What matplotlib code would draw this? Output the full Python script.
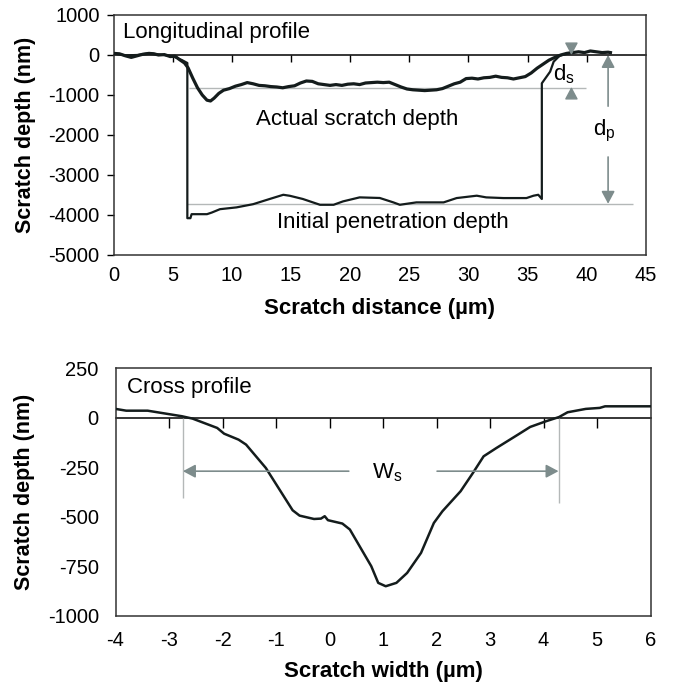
"""
Scratch profile figure: longitudinal profile (top) and cross profile (bottom).

Saves out.png
"""

import matplotlib
matplotlib.use("Agg")
import matplotlib.pyplot as plt

plt.rcParams["font.family"] = ["Liberation Sans", "DejaVu Sans"]
plt.rcParams["mathtext.default"] = "regular"
plt.rcParams["axes.unicode_minus"] = False

# longitudinal profile: residual (actual) scratch surface
actualX = [0, 0.5, 1.0, 1.5, 2.0, 2.5, 3.0, 3.4, 3.8, 4.3, 4.8, 5.2, 5.6, 6.0, 6.3, 6.7,
           7.1, 7.5, 7.9, 8.2, 8.5, 8.9, 9.3, 9.8, 10.3, 10.8, 11.3, 11.8, 12.3, 12.8,
           13.3, 13.8, 14.3, 14.8, 15.3, 15.8, 16.3, 16.8, 17.3, 17.8, 18.3, 18.8, 19.3,
           19.8, 20.3, 20.8, 21.3, 21.8, 22.3, 22.8, 23.3, 23.8, 24.3, 24.8, 25.3, 25.8,
           26.3, 26.8, 27.3, 27.8, 28.3, 28.8, 29.3, 29.8, 30.3, 30.8, 31.3, 31.8, 32.3,
           32.8, 33.3, 33.8, 34.3, 34.8, 35.3, 35.8, 36.3, 36.8, 37.3, 37.8, 38.3, 38.8,
           39.3, 39.8, 40.3, 40.8, 41.3, 41.8, 42.0]
actualDepth = [40, 30, -20, -60, -20, 20, 40, 30, 0, 10, -40, -30, -120, -200, -320, -580,
               -820, -1000, -1130, -1150, -1080, -960, -880, -840, -780, -740, -690, -720,
               -760, -770, -790, -800, -820, -790, -770, -700, -650, -660, -720, -740, -760,
               -740, -760, -730, -720, -740, -700, -690, -680, -690, -680, -740, -800, -850,
               -870, -880, -890, -880, -870, -840, -780, -720, -680, -590, -580, -600, -570,
               -560, -530, -560, -570, -600, -570, -540, -450, -330, -230, -130, -60, 0, 40,
               60, 80, 60, 100, 80, 60, 70, 60]

# longitudinal profile: initial penetration depth under load
penetrationX = [0, 1.0, 2.0, 3.0, 4.0, 5.0, 5.8, 6.24, 6.24, 6.5, 6.6, 7.9, 8.3, 9.0, 10.4,
                11.8, 13.2, 14.35, 14.9, 16.0, 17.45, 18.6, 19.4, 20.8, 22.5, 23.65, 24.2,
                25.6, 27.9, 29.0, 30.7, 31.5, 32.95, 34.9, 35.5, 35.9, 36.2, 36.2, 36.9,
                37.2, 37.7, 38.5]
penetrationDepth = [40, -10, 0, 40, 10, -30, -130, -200, -4080, -4080, -3980, -3980, -3940,
                    -3855, -3810, -3730, -3600, -3495, -3520, -3600, -3745, -3745, -3660,
                    -3560, -3575, -3685, -3745, -3685, -3685, -3577, -3518, -3560, -3577,
                    -3577, -3518, -3495, -3600, -708, -417, -167, -20, 50]

# reference levels and annotation positions (nm, um)
scratchDepthLevel = -830
penetrationLevel = -3720
dsX = 38.7
dpX = 41.8

# cross profile
crossX = [-4.0, -3.8, -3.4, -2.76, -2.56, -2.10, -1.97, -1.70, -1.56, -1.19, -0.69, -0.56,
          -0.29, -0.16, -0.09, -0.03, 0.24, 0.38, 0.78, 0.91, 1.05, 1.25, 1.45, 1.71, 1.95,
          2.11, 2.45, 2.68, 2.88, 3.12, 3.52, 3.75, 4.05, 4.29, 4.45, 4.79, 5.05, 5.15, 6.0]
crossDepth = [44, 35, 35, 7, -5, -52, -81, -111, -136, -254, -467, -494, -511, -509, -497,
              -517, -534, -564, -749, -833, -850, -833, -783, -682, -531, -472, -371, -279,
              -195, -153, -86, -47, -18, 3, 27, 44, 49, 57, 57]
widthEdges = [-2.74, 4.28]
widthArrowY = -270

lineColor = "#141c1c"
refColor = "#b4b8b8"
arrowColor = "#7d8c8c"
headStyle = "-|>,head_length=0.75,head_width=0.4"

fig = plt.figure(figsize=(6.74, 6.94), dpi=100)
axTop = fig.add_axes([0.1684, 0.6326, 0.790, 0.3458])
axBottom = fig.add_axes([0.1714, 0.1124, 0.7938, 0.3573])

# ---- top: longitudinal profile ----
axTop.plot(actualX, actualDepth, color=lineColor, lw=2.3, zorder=3)
axTop.plot(penetrationX, penetrationDepth, color=lineColor, lw=1.6, zorder=3)
axTop.hlines(scratchDepthLevel, 6.4, 39.9, color=refColor, lw=1.0, zorder=2)
axTop.hlines(penetrationLevel, 6.2, 43.9, color=refColor, lw=1.0, zorder=2)

# d_s markers (heads only)
axTop.annotate("", xy=(dsX, 0), xytext=(dsX, 260),
               arrowprops=dict(arrowstyle=headStyle, color=arrowColor, lw=1, shrinkA=0, shrinkB=0))
axTop.annotate("", xy=(dsX, scratchDepthLevel + 30), xytext=(dsX, scratchDepthLevel - 230),
               arrowprops=dict(arrowstyle=headStyle, color=arrowColor, lw=1, shrinkA=0, shrinkB=0))
axTop.text(dsX - 0.6, -470, "d$_s$", fontsize=16, ha="center", va="center")

# d_p arrow
axTop.annotate("", xy=(dpX, 0), xytext=(dpX, -1280),
               arrowprops=dict(arrowstyle=headStyle, color=arrowColor, lw=1.2, shrinkA=0, shrinkB=0))
axTop.annotate("", xy=(dpX, penetrationLevel), xytext=(dpX, -2550),
               arrowprops=dict(arrowstyle=headStyle, color=arrowColor, lw=1.2, shrinkA=0, shrinkB=0))
axTop.text(dpX - 0.3, -1900, "d$_p$", fontsize=16, ha="center", va="center")

axTop.text(20.6, -1620, "Actual scratch depth", fontsize=16, ha="center", va="center")
axTop.text(23.6, -4200, "Initial penetration depth", fontsize=16, ha="center", va="center")
axTop.text(0.018, 0.925, "Longitudinal profile", fontsize=16, ha="left", va="center", transform=axTop.transAxes)

axTop.set_xlim(0, 45)
axTop.set_ylim(-5000, 1000)
axTop.set_xticks(range(0, 50, 5))
axTop.set_yticks(range(-5000, 1001, 1000))
axTop.tick_params(axis="x", length=0, pad=8, labelsize=14.5)
axTop.tick_params(axis="y", direction="out", length=5, width=1, labelsize=14.5, pad=5)
axTop.set_xlabel("Scratch distance (\u00b5m)", fontsize=16, fontweight="bold", labelpad=9)
axTop.set_ylabel("Scratch depth (nm)", fontsize=15.5, fontweight="bold", labelpad=9)

zeroTop = axTop.secondary_xaxis(0, transform=axTop.transData)
zeroTop.set_xticks(range(5, 45, 5))
zeroTop.tick_params(axis="x", direction="out", length=5, width=1, labelbottom=False, color="black")
zeroTop.spines["bottom"].set_linewidth(1.1)

# ---- bottom: cross profile ----
axBottom.plot(crossX, crossDepth, color=lineColor, lw=1.8, zorder=3)
axBottom.vlines(widthEdges, [-405, -430], 0, color=refColor, lw=1.0, zorder=2)
axBottom.annotate("", xy=(widthEdges[0], widthArrowY), xytext=(0.36, widthArrowY),
                  arrowprops=dict(arrowstyle=headStyle, color=arrowColor, lw=1.2, shrinkA=0, shrinkB=0))
axBottom.annotate("", xy=(widthEdges[1], widthArrowY), xytext=(2.01, widthArrowY),
                  arrowprops=dict(arrowstyle=headStyle, color=arrowColor, lw=1.2, shrinkA=0, shrinkB=0))
axBottom.text(1.08, widthArrowY - 10, "W$_s$", fontsize=16, ha="center", va="center")
axBottom.text(0.022, 0.92, "Cross profile", fontsize=16, ha="left", va="center", transform=axBottom.transAxes)

axBottom.set_xlim(-4, 6)
axBottom.set_ylim(-1000, 250)
axBottom.set_xticks(range(-4, 7))
axBottom.set_yticks(range(-1000, 251, 250))
axBottom.tick_params(axis="x", length=0, pad=11, labelsize=14.5)
axBottom.tick_params(axis="y", length=0, labelsize=14.5, pad=12)
axBottom.set_xlabel("Scratch width (\u00b5m)", fontsize=16, fontweight="bold", labelpad=8)
axBottom.set_ylabel("Scratch depth (nm)", fontsize=15.5, fontweight="bold", labelpad=9)

zeroBottom = axBottom.secondary_xaxis(0, transform=axBottom.transData)
zeroBottom.set_xticks(range(-3, 6))
zeroBottom.tick_params(axis="x", direction="out", length=7, width=1, labelbottom=False, color="black")
zeroBottom.spines["bottom"].set_linewidth(1.1)

for ax in (axTop, axBottom):
    for spine in ax.spines.values():
        spine.set_color("#333333")
        spine.set_linewidth(1.1)

fig.savefig("out.png", dpi=100)
